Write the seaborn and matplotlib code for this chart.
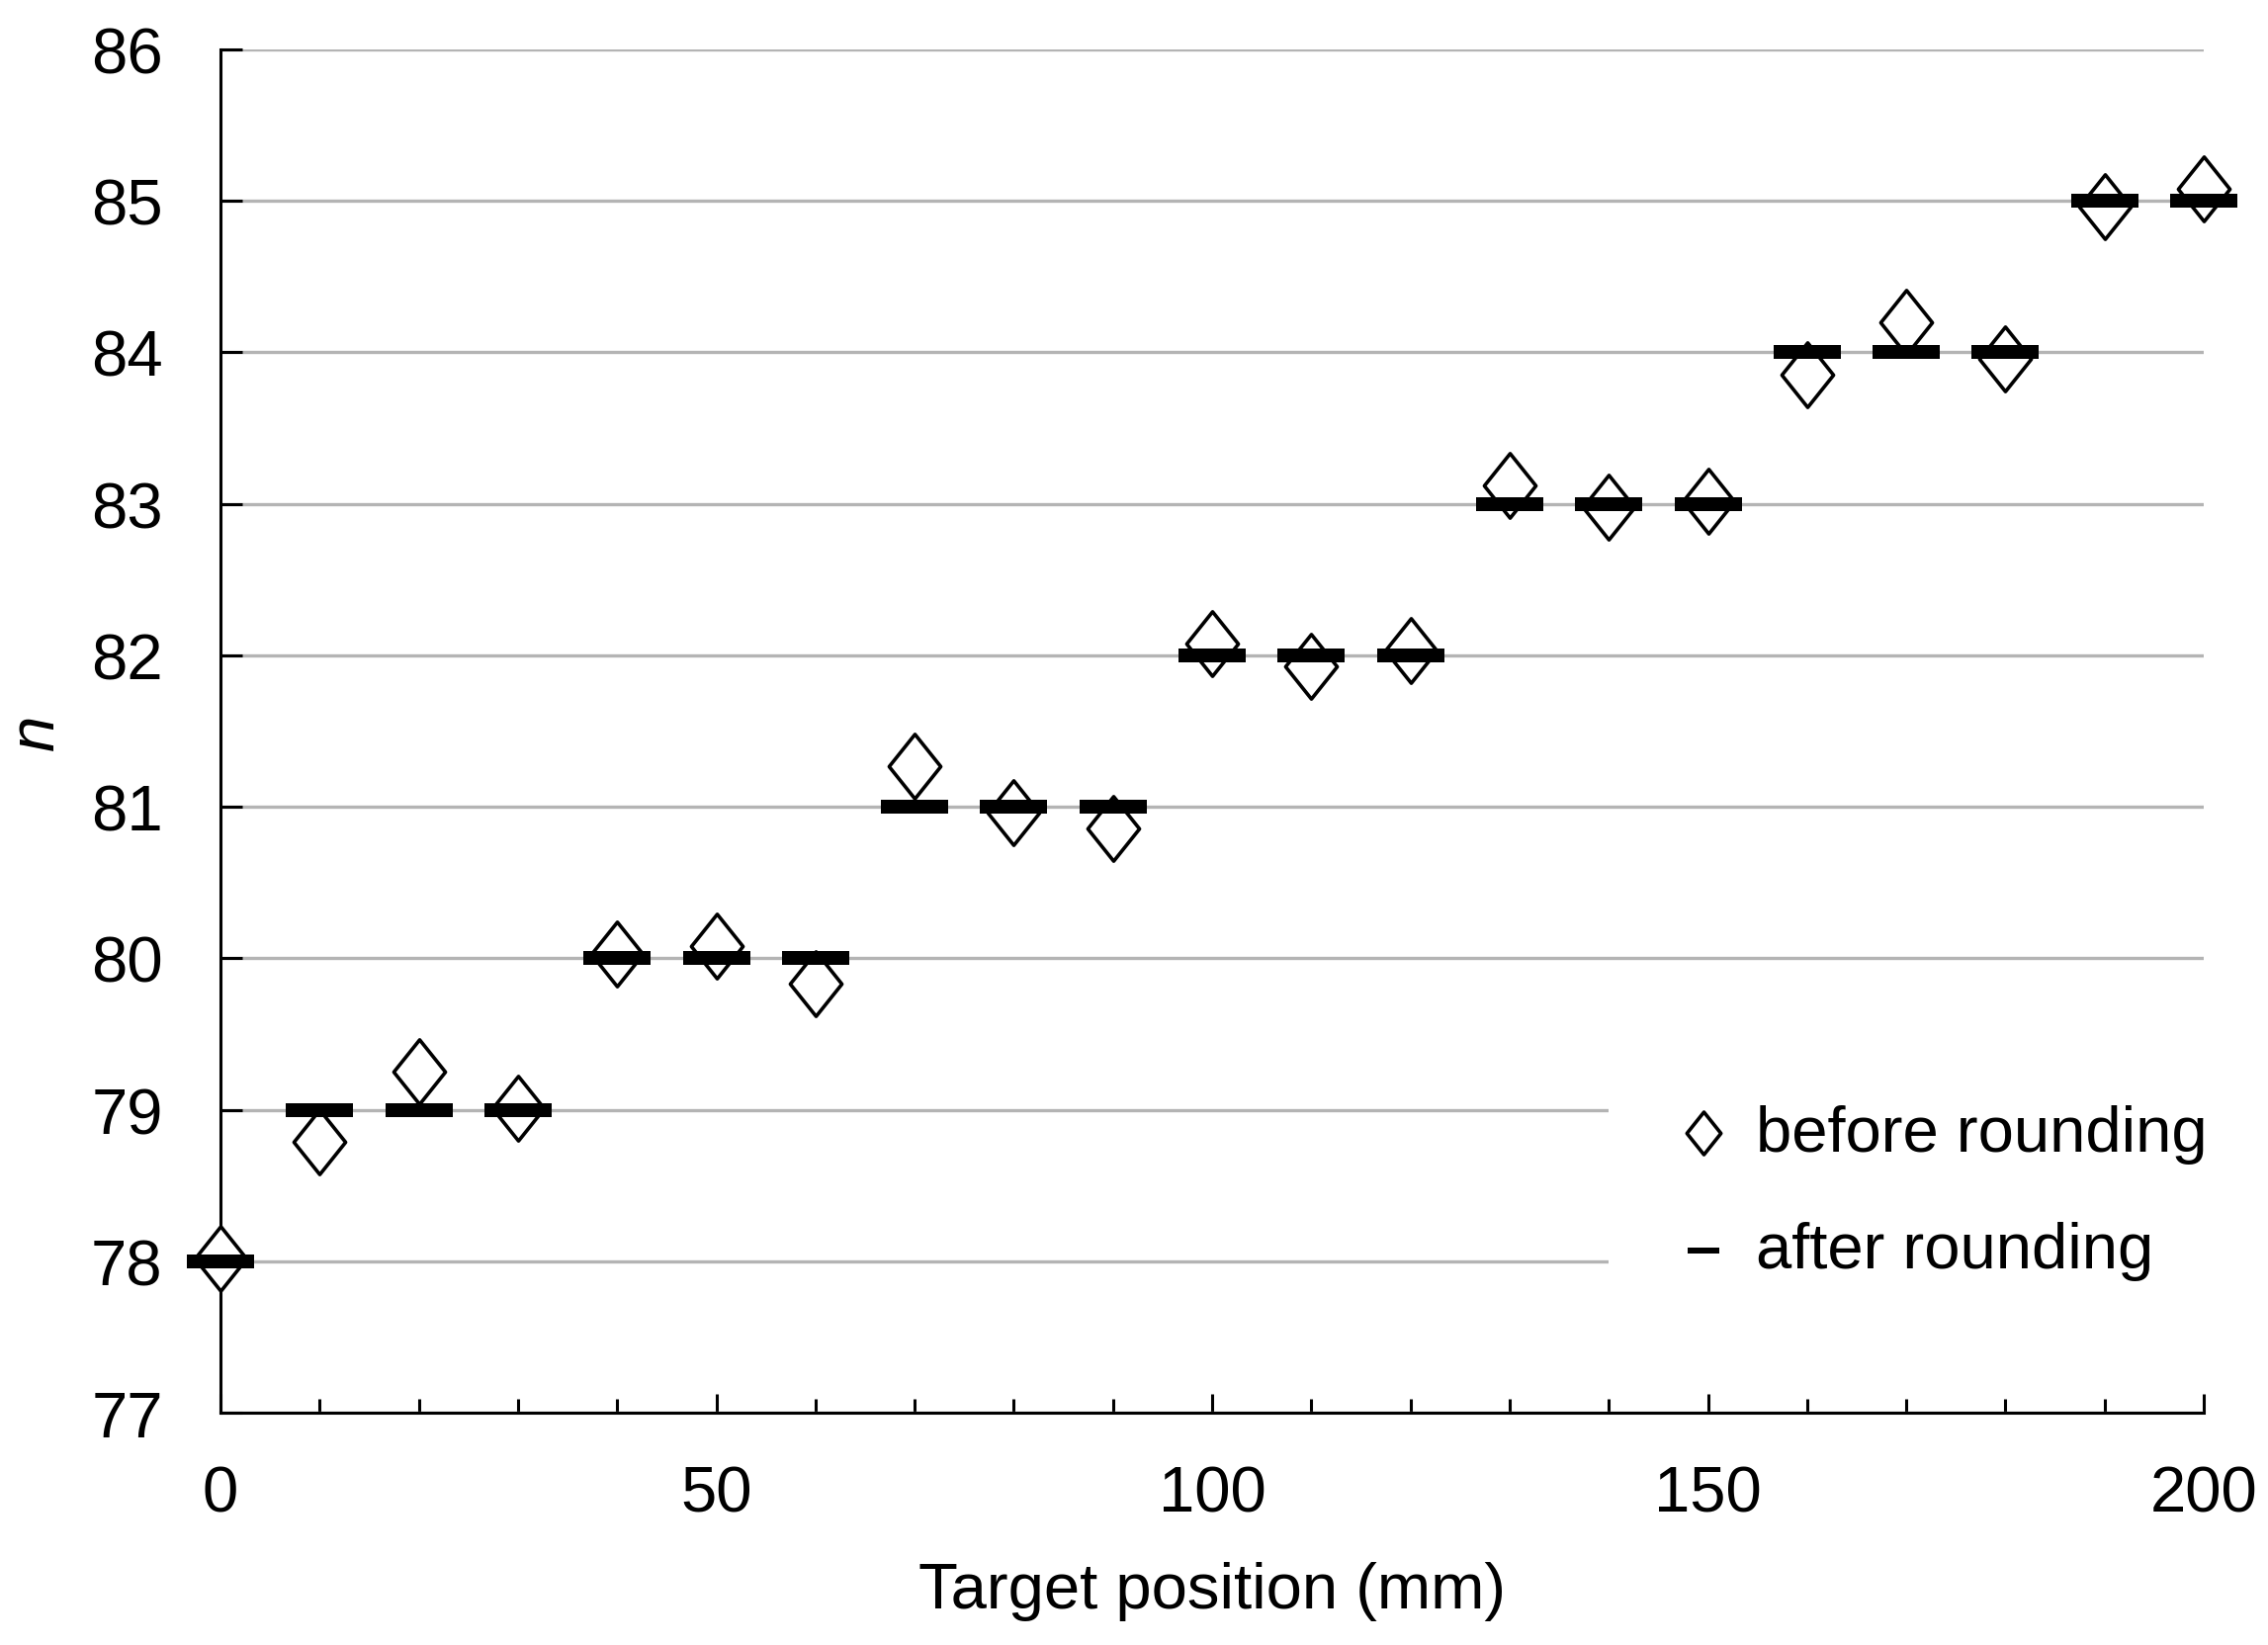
import numpy as np
import pandas as pd
import matplotlib
matplotlib.use('Agg')
import matplotlib.pyplot as plt
from matplotlib.path import Path
import seaborn as sns

# data
position = [0, 10, 20, 30, 40, 50, 60, 70, 80, 90, 100,
            110, 120, 130, 140, 150, 160, 170, 180, 190, 200]
before_rounding = [78.02, 78.79, 79.25, 79.01, 80.03, 80.08, 79.83, 81.27, 80.96, 80.86, 82.08,
                   81.93, 82.03, 83.12, 82.98, 83.02, 83.85, 84.20, 83.96, 84.96, 85.08]
after_rounding = [78, 79, 79, 79, 80, 80, 80, 81, 81, 81, 82,
                  82, 82, 83, 83, 83, 84, 84, 84, 85, 85]
y_ticks = [77, 78, 79, 80, 81, 82, 83, 84, 85, 86]
x_ticks = [0, 50, 100, 150, 200]

df = pd.DataFrame({'pos': position, 'before': before_rounding, 'after': after_rounding})

sns.set_style('white')
plt.rcParams['font.family'] = ['Liberation Sans', 'DejaVu Sans']
plt.rcParams['text.color'] = 'black'
plt.rcParams['axes.labelcolor'] = 'black'
plt.rcParams['xtick.color'] = 'black'
plt.rcParams['ytick.color'] = 'black'

FS = 47

fig = plt.figure(figsize=(22.94, 16.65), dpi=100)
ax = fig.add_axes([0.0972, 0.1411, 0.8745, 0.8283])

# custom marker shapes
diamond = Path([(0, 1), (0.8, 0), (0, -1), (-0.8, 0), (0, 1)],
               [Path.MOVETO, Path.LINETO, Path.LINETO, Path.LINETO, Path.CLOSEPOLY])
bar = Path([(-1, -0.21), (1, -0.21), (1, 0.21), (-1, 0.21), (-1, -0.21)],
           [Path.MOVETO, Path.LINETO, Path.LINETO, Path.LINETO, Path.CLOSEPOLY])

sns.scatterplot(data=df, x='pos', y='before', marker=diamond, s=47**2,
                facecolor='white', edgecolor='black', linewidth=2.6,
                label='before rounding', clip_on=False, zorder=3, ax=ax)
sns.scatterplot(data=df, x='pos', y='after', marker=bar, s=49**2,
                color='black', edgecolor='black', linewidth=0,
                label='after rounding', clip_on=False, zorder=4, ax=ax)

ax.set_xlim(0, 200)
ax.set_ylim(77, 86)
ax.set_xticks(x_ticks)
ax.set_xticks(np.arange(0, 201, 10), minor=True)
ax.set_yticks(y_ticks)

ax.yaxis.grid(True, color='#b4b4b4', linewidth=2.4)
ax.set_axisbelow(True)

for s in ['top', 'right']:
    ax.spines[s].set_visible(False)
for s in ['left', 'bottom']:
    ax.spines[s].set_linewidth(2.2)
    ax.spines[s].set_color('black')

ax.tick_params(axis='y', which='major', direction='in', length=16, width=2.2,
               labelsize=FS, pad=42, left=True)
ax.tick_params(axis='x', which='major', direction='in', length=14, width=2.2,
               labelsize=FS, pad=38, bottom=True)
ax.tick_params(axis='x', which='minor', direction='in', length=10, width=2.2, bottom=True)

ax.set_xlabel('Target position (mm)', fontsize=FS, labelpad=27)
ax.set_ylabel('n', fontsize=FS, fontstyle='italic', labelpad=18)

leg = ax.legend(loc='center left', bbox_to_anchor=(0.700, 0.162), fontsize=FS,
                handlelength=0.8, handletextpad=0.41,
                labelspacing=0.89, borderpad=1.07, borderaxespad=0,
                frameon=True, facecolor='white', edgecolor='none', framealpha=1,
                fancybox=False)
handles = leg.legend_handles
handles[0].set_sizes([31**2])
handles[1].set_sizes([23**2])

fig.savefig('out.png', dpi=100)
